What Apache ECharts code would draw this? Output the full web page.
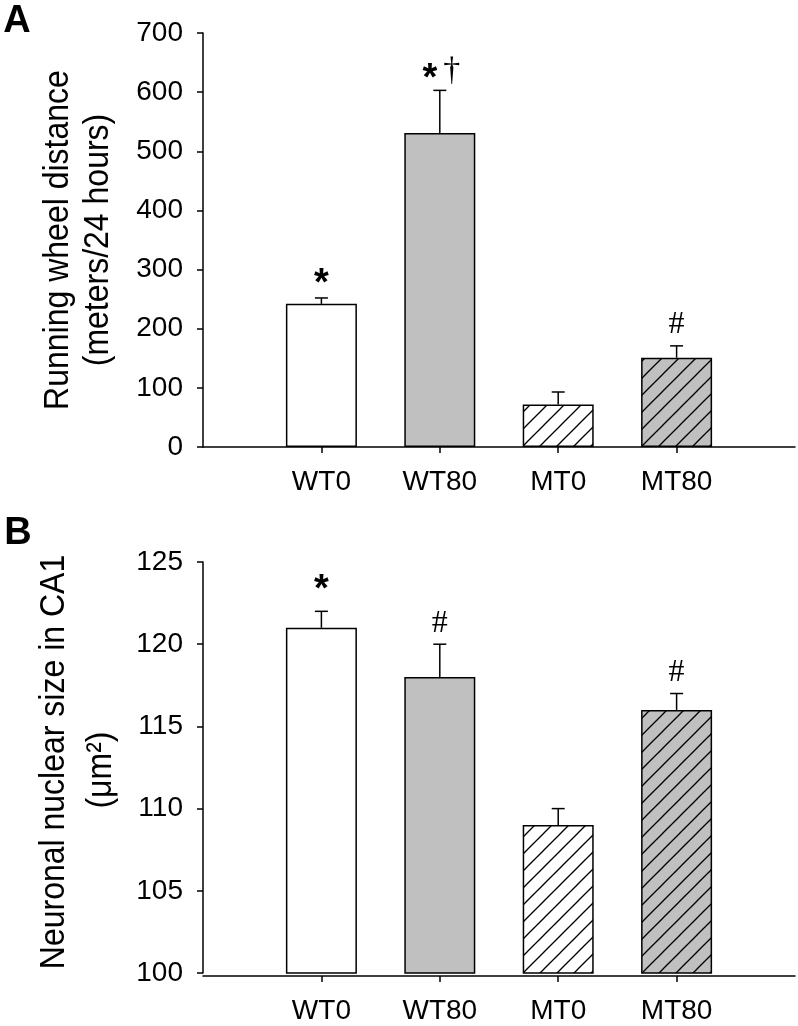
<!DOCTYPE html>
<html>
<head>
<meta charset="utf-8">
<script src="https://cdn.jsdelivr.net/npm/echarts@6/dist/echarts.min.js"></script>
<style>
html,body{margin:0;padding:0;background:#fff;}
#chart{width:798px;height:1026px;}
</style>
</head>
<body>
<div id="chart"></div>
<script>
// ---- data ----
const categories = ['WT0', 'WT80', 'MT0', 'MT80'];
const fills = ['white', 'gray', 'hatchWhite', 'hatchGray'];

const distanceMean = [242, 531, 72, 151];
const distanceErrTop = [252, 603, 93, 171];
const distanceMarks = ['*', '*†', '', '#'];
const distanceAxis = { min: 0, max: 700, interval: 100 };

const nuclearMean = [121, 118, 109, 116];
const nuclearErrTop = [122, 120, 110, 117];
const nuclearMarks = ['*', '#', '', '#'];
const nuclearAxis = { min: 100, max: 125, interval: 5 };

const panelLabels = ['A', 'B'];
const titleA = ['Running wheel distance', '(meters/24 hours)'];
const titleB = ['Neuronal nuclear size in CA1', '(μm²)'];

// ---- styling helpers ----
const GRAY = '#c0c0c0';
function hatch(bg) {
  const s = 17, c = document.createElement('canvas');
  c.width = s; c.height = s;
  const g = c.getContext('2d');
  g.fillStyle = bg; g.fillRect(0, 0, s, s);
  g.strokeStyle = '#000'; g.lineWidth = 1.3;
  for (const o of [-s, 0, s]) {
    g.beginPath(); g.moveTo(o - 2, s + 2); g.lineTo(o + s + 2, -2); g.stroke();
  }
  return c;
}
const fillMap = {
  white: '#ffffff',
  gray: GRAY,
  hatchWhite: { image: hatch('#ffffff'), repeat: 'repeat' },
  hatchGray: { image: hatch(GRAY), repeat: 'repeat' }
};

const axisCats = [''].concat(categories, ['']);
const SANS = '"Liberation Sans", Arial, sans-serif';
const SERIF = '"Liberation Serif", "Times New Roman", serif';

function barData(means) {
  return [null].concat(means.map((v, i) => ({
    value: v,
    itemStyle: { color: fillMap[fills[i]] }
  })), [null]);
}
function errData(means, tops, marks) {
  return means.map((v, i) => [i + 1, v, tops[i], marks[i]]);
}

function makeRender(marks, starShift) {
  return function (params, api) {
    const x = api.value(0);
    const base = api.coord([x, api.value(1)]);
    const top = api.coord([x, api.value(2)]);
    const ls = { stroke: '#000', lineWidth: 1.5 };
    const children = [
      { type: 'line', shape: { x1: base[0], y1: base[1], x2: top[0], y2: top[1] }, style: ls },
      { type: 'line', shape: { x1: top[0] - 6.5, y1: top[1], x2: top[0] + 6.5, y2: top[1] }, style: ls }
    ];
    const m = marks[params.dataIndex];
    const starFont = 'bold 38px ' + SANS;
    if (m.indexOf('†') >= 0) {
      children.push({ type: 'text', x: top[0] - 10, y: top[1] + starShift + 2,
        style: { text: '*', fill: '#000', font: starFont, align: 'center', verticalAlign: 'bottom' } });
      children.push({ type: 'text', x: top[0] + 12, y: top[1] - 2,
        style: { text: '†', fill: '#000', font: '34px ' + SERIF, align: 'center', verticalAlign: 'bottom' } });
    } else if (m === '*') {
      children.push({ type: 'text', x: top[0], y: top[1] + starShift,
        style: { text: '*', fill: '#000', font: starFont, align: 'center', verticalAlign: 'bottom' } });
    } else if (m === '#') {
      children.push({ type: 'text', x: top[0], y: top[1] - 5,
        style: { text: '#', fill: '#000', font: '32px ' + SERIF, align: 'center', verticalAlign: 'bottom' } });
    }
    return { type: 'group', children: children };
  };
}

const grids = [
  { left: 203, top: 33, width: 592, height: 414 },
  { left: 203, top: 562, width: 592, height: 411 }
];

function xAxisCfg(gi, offset) {
  return {
    type: 'category', gridIndex: gi, data: axisCats, boundaryGap: false, offset: offset,
    axisLine: { lineStyle: { color: '#000', width: 1.5 } },
    axisTick: { length: 6, lineStyle: { color: '#000', width: 1.5 }, interval: (i, v) => v !== '' },
    axisLabel: { interval: (i, v) => v !== '', color: '#000', fontSize: 28, fontFamily: SANS, margin: 21 },
    splitLine: { show: false }
  };
}
function yAxisCfg(gi, ax) {
  return {
    type: 'value', gridIndex: gi, min: ax.min, max: ax.max, interval: ax.interval,
    axisLine: { show: true, lineStyle: { color: '#000', width: 1.5 } },
    axisTick: { show: true, length: 6, lineStyle: { color: '#000', width: 1.5 } },
    axisLabel: { color: '#000', fontSize: 28, fontFamily: SANS, margin: 20 },
    splitLine: { show: false }
  };
}

function titleText(x, y, text) {
  return { type: 'text', x: x, y: y, rotation: Math.PI / 2, scaleY: 1.12,
    style: { text: text, fill: '#000', font: '32px ' + SANS, align: 'center', verticalAlign: 'middle' } };
}

const option = {
  backgroundColor: '#fff',
  animation: false,
  grid: grids,
  xAxis: [xAxisCfg(0, 0), xAxisCfg(1, 3)],
  yAxis: [yAxisCfg(0, distanceAxis), yAxisCfg(1, nuclearAxis)],
  series: [
    { type: 'bar', xAxisIndex: 0, yAxisIndex: 0, barWidth: 71, data: barData(distanceMean),
      itemStyle: { borderColor: '#000', borderWidth: 1.5 }, z: 2 },
    { type: 'custom', xAxisIndex: 0, yAxisIndex: 0, data: errData(distanceMean, distanceErrTop, distanceMarks),
      renderItem: makeRender(distanceMarks, 6), z: 3 },
    { type: 'bar', xAxisIndex: 1, yAxisIndex: 1, barWidth: 71, data: barData(nuclearMean),
      itemStyle: { borderColor: '#000', borderWidth: 1.5 }, z: 2 },
    { type: 'custom', xAxisIndex: 1, yAxisIndex: 1, data: errData(nuclearMean, nuclearErrTop, nuclearMarks),
      renderItem: makeRender(nuclearMarks, -2), z: 3 }
  ],
  graphic: [
    { type: 'text', x: 17, y: 22, style: { text: panelLabels[0], fill: '#000', font: 'bold 38px ' + SANS, align: 'center', verticalAlign: 'middle' } },
    { type: 'text', x: 18, y: 534, style: { text: panelLabels[1], fill: '#000', font: 'bold 38px ' + SANS, align: 'center', verticalAlign: 'middle' } },
    titleText(58, 240, titleA[0]),
    titleText(98, 240, titleA[1]),
    titleText(54, 762, titleB[0]),
    titleText(101, 770, titleB[1])
  ]
};

const chart = echarts.init(document.getElementById('chart'), null, { renderer: 'canvas' });
chart.setOption(option);
</script>
</body>
</html>
